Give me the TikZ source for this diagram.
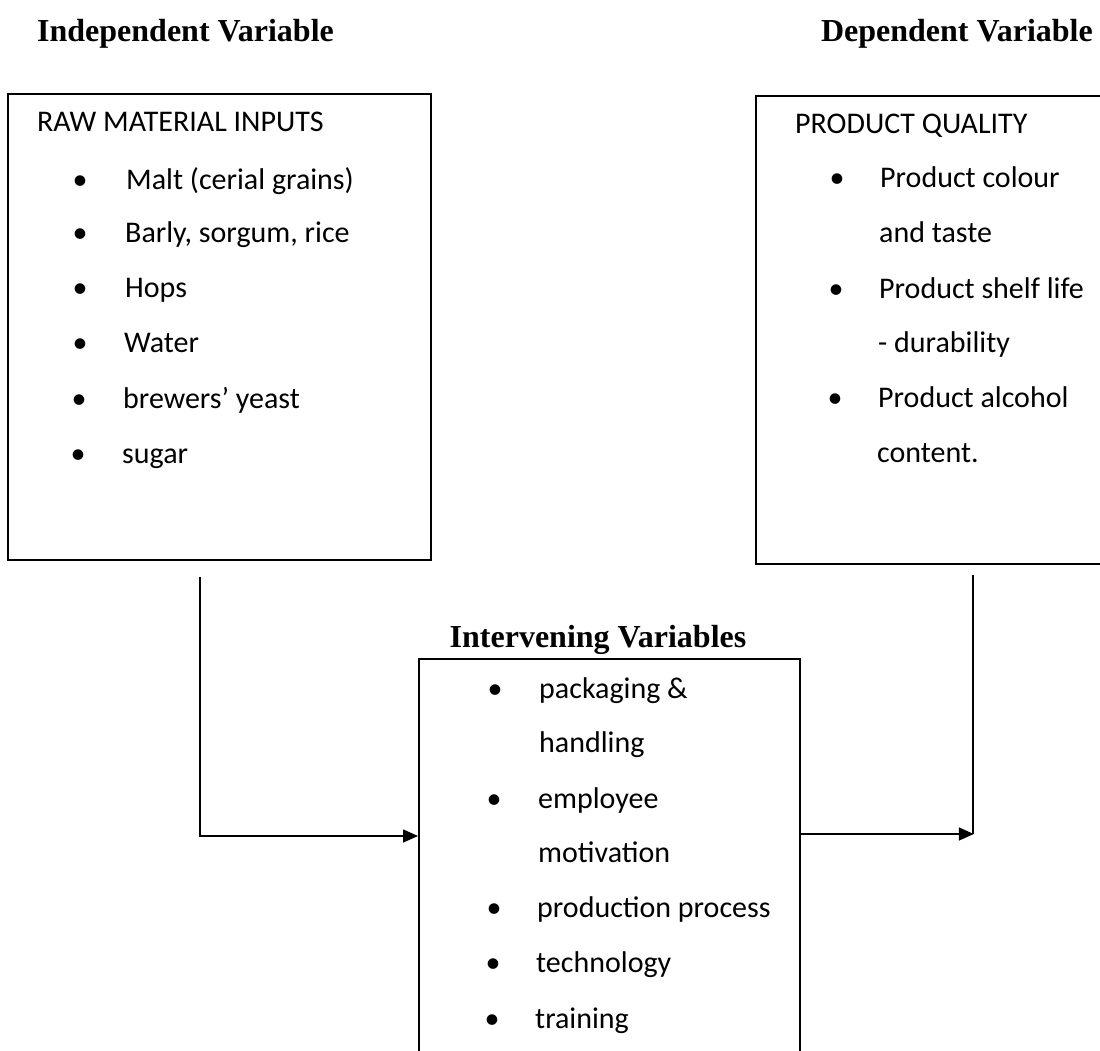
\documentclass[tikz,border=0pt]{standalone}
\usepackage{fontspec}
\setmainfont{Carlito}
\newfontfamily\headfont{Liberation Serif}
\usetikzlibrary{arrows.meta}
\begin{document}
\begin{tikzpicture}[x=1pt,y=-1pt,
  box/.style={draw=black, line width=1.6pt, inner sep=0pt, anchor=north west},
  heading/.style={font=\headfont\fontsize{32}{36}\selectfont\bfseries, inner sep=0pt, anchor=base},
  itemtxt/.style={font=\fontsize{30}{34}\selectfont, inner sep=0pt, anchor=base west},
  bul/.style={font=\fontsize{30}{34}\selectfont, inner sep=0pt, anchor=base},
  conn/.style={line width=1.6pt},
  arr/.style={line width=1.6pt, -{Triangle[length=15pt,width=13pt]}}
]
\clip (0,0) rectangle (1100,1051);
\fill[white] (0,0) rectangle (1100,1051);

% headings
\node[heading, anchor=base west] (hind) at (37,42) {Independent Variable};
\node[heading, anchor=base east] (hdep) at (1093,42) {Dependent Variable};
\node[heading] (hint) at (598,647) {Intervening Variables};

% boxes
\node[box, minimum width=423pt, minimum height=466pt] (indep) at (7,93) {};
\node[box, minimum width=360pt, minimum height=468pt] (dep) at (755,95) {};
\node[box, minimum width=381pt, minimum height=410pt] (interv) at (418,658) {};

% independent box text
\node[itemtxt] (t0) at (37,132) {RAW MATERIAL INPUTS};
\node[bul] (b1) at (80,190) {•};
\node[itemtxt] (t1) at (126,190) {Malt (cerial grains)};
\node[bul] (b2) at (80,243) {•};
\node[itemtxt] (t2) at (125,243) {Barly, sorgum, rice};
\node[bul] (b3) at (80,297) {•};
\node[itemtxt] (t3) at (125,297) {Hops};
\node[bul] (b4) at (80,352) {•};
\node[itemtxt] (t4) at (124,352) {Water};
\node[bul] (b5) at (79,408) {•};
\node[itemtxt] (t5) at (123,408) {brewers’ yeast};
\node[bul] (b6) at (78,463) {•};
\node[itemtxt] (t6) at (122,463) {sugar};

% dependent box text
\node[itemtxt] (d0) at (795,134) {PRODUCT QUALITY};
\node[bul] (db1) at (837,188) {•};
\node[itemtxt] (d1) at (880,188) {Product colour};
\node[itemtxt] (d2) at (879,243) {and taste};
\node[bul] (db2) at (836,298) {•};
\node[itemtxt] (d3) at (879,298) {Product shelf life};
\node[itemtxt] (d4) at (878,352) {- durability};
\node[bul] (db3) at (835,407) {•};
\node[itemtxt] (d5) at (878,407) {Product alcohol};
\node[itemtxt] (d6) at (877,462) {content.};

% intervening box text
\node[bul] (ib1) at (495,698) {•};
\node[itemtxt] (i1) at (539,698) {packaging \&};
\node[itemtxt] (i2) at (539,752) {handling};
\node[bul] (ib2) at (494,808) {•};
\node[itemtxt] (i3) at (538,808) {employee};
\node[itemtxt] (i4) at (538,862) {motivation};
\node[bul] (ib3) at (494,917) {•};
\node[itemtxt] (i5) at (537,917) {production process};
\node[bul] (ib4) at (493,972) {•};
\node[itemtxt] (i6) at (536,972) {technology};
\node[bul] (ib5) at (492,1028) {•};
\node[itemtxt] (i7) at (535,1028) {training};

% connectors
\coordinate (l1) at (200,577);
\coordinate (l2) at (200,836);
\draw[arr] (l1) -- (l2) -- (interv.west |- l2);

\coordinate (r1) at (973,575);
\coordinate (r2) at (973,834);
\draw[conn] (r1) -- (r2);
\draw[arr] (interv.east |- r2) -- ([xshift=0.8pt]r2);
\end{tikzpicture}
\end{document}
